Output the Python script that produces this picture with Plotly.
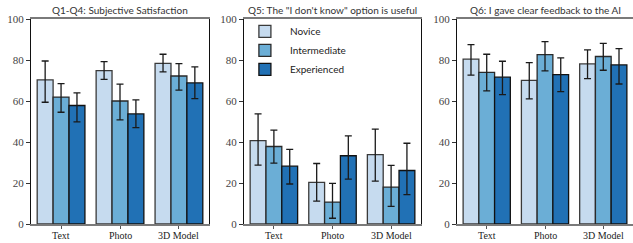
import plotly.graph_objects as go

categories = ["Text", "Photo", "3D Model"]
groups = ["Novice", "Intermediate", "Experienced"]
titles = ["Q1-Q4: Subjective Satisfaction",
          "Q5: The \"I don't know\" option is useful",
          "Q6: I gave clear feedback to the AI"]

# means per panel, per group (Text, Photo, 3D Model)
q14_mean = {"Novice": [70.3, 74.8, 78.4], "Intermediate": [61.9, 60.0, 72.2], "Experienced": [57.8, 53.7, 68.8]}
q14_hi = {"Novice": [79.5, 79.2, 82.8], "Intermediate": [68.5, 68.2, 78.2], "Experienced": [64.0, 60.5, 76.6]}
q14_lo = {"Novice": [59.4, 70.5, 74.2], "Intermediate": [54.5, 50.8, 65.3], "Experienced": [49.8, 47.0, 61.2]}

q5_mean = {"Novice": [40.7, 20.3, 33.8], "Intermediate": [37.8, 10.7, 18.0], "Experienced": [28.2, 33.3, 26.1]}
q5_hi = {"Novice": [53.7, 29.5, 46.3], "Intermediate": [45.8, 19.8, 28.6], "Experienced": [36.4, 43.0, 39.4]}
q5_lo = {"Novice": [28.7, 11.2, 20.9], "Intermediate": [29.7, 2.8, 8.6], "Experienced": [19.5, 21.9, 14.3]}

q6_mean = {"Novice": [80.4, 70.1, 78.1], "Intermediate": [74.0, 82.6, 81.7], "Experienced": [71.6, 72.9, 77.6]}
q6_hi = {"Novice": [87.5, 78.7, 84.9], "Intermediate": [82.8, 89.0, 88.1], "Experienced": [79.4, 81.0, 85.5]}
q6_lo = {"Novice": [72.6, 61.0, 70.9], "Intermediate": [64.9, 74.7, 75.0], "Experienced": [63.1, 64.6, 68.3]}

y_ticks = [0, 20, 40, 60, 80, 100]

colors = {"Novice": "#c6dbef", "Intermediate": "#6baed6", "Experienced": "#2171b5"}
edges = {"Novice": "#3a3a3a", "Intermediate": "#2a2a2a", "Experienced": "#111111"}

panels = [(q14_mean, q14_hi, q14_lo), (q5_mean, q5_hi, q5_lo), (q6_mean, q6_hi, q6_lo)]

W, H = 633, 243
domains = [[31 / W, 209 / W], [244 / W, 421 / W], [457 / W, 1.0]]

fig = go.Figure()
for i, (mean, hi, lo) in enumerate(panels):
    ax = "" if i == 0 else str(i + 1)
    for g in groups:
        fig.add_trace(go.Bar(
            x=categories, y=mean[g], name=g,
            xaxis="x" + ax, yaxis="y" + ax,
            marker=dict(color=colors[g], line=dict(color=edges[g], width=1.3)),
            error_y=dict(type="data", symmetric=False,
                         array=[h - m for h, m in zip(hi[g], mean[g])],
                         arrayminus=[m - l for m, l in zip(mean[g], lo[g])],
                         color="#1a1a1a", thickness=1.3, width=3.5),
            showlegend=(i == 1),
            legendgroup=g,
        ))

layout = dict(
    width=W, height=H,
    margin=dict(l=0, r=0, t=19, b=19),
    barmode="group", bargap=0.19, bargroupgap=0,
    plot_bgcolor="white", paper_bgcolor="white",
    legend=dict(x=0.379, y=1.01, xanchor="left", yanchor="top",
                bgcolor="rgba(0,0,0,0)", font=dict(family="Lato", size=10, color="#222"),
                itemwidth=40, tracegroupgap=0),
    annotations=[],
)
for i in range(3):
    ax = "" if i == 0 else str(i + 1)
    layout["xaxis" + ax] = dict(
        domain=domains[i], anchor="y" + ax, range=[-0.51, 2.51],
        showline=True, mirror=True, linecolor="#7a7a7a", linewidth=1.5,
        ticks="outside", ticklen=3, tickcolor="#555", showgrid=False,
        showticklabels=False,
    )
    layout["yaxis" + ax] = dict(
        domain=[0, 1], anchor="x" + ax, range=[0, 100],
        tickvals=y_ticks,
        showline=True, mirror=True, linecolor="#111", linewidth=1.2,
        ticks="outside", ticklen=4, tickcolor="#333", showgrid=False,
        tickfont=dict(family="Liberation Serif", size=11, color="#444"),
        zeroline=False,
    )
    layout["annotations"].append(dict(
        text=titles[i], xref="paper", yref="paper",
        x=(domains[i][0] + domains[i][1]) / 2, y=1.0, yshift=1,
        xanchor="center", yanchor="bottom", showarrow=False,
        font=dict(family="Lato", size=10, color="#333"),
    ))
    for c in categories:
        layout["annotations"].append(dict(
            text=c, xref="x" + ax, yref="paper", x=c, y=0, yshift=-4,
            xanchor="center", yanchor="top", showarrow=False,
            font=dict(family="Liberation Serif", size=10, color="#222"),
        ))

fig.update_layout(**layout)
fig.write_html("out.html", config={"displayModeBar": False},
               post_script="document.body.style.margin='0';document.body.style.overflow='hidden';")
